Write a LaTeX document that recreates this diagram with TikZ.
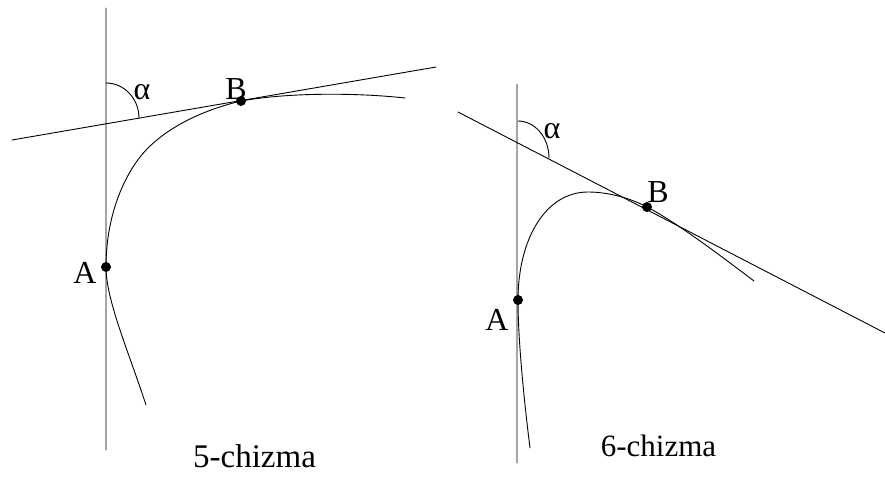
\documentclass[tikz,border=0pt]{standalone}
\usepackage{fontspec}
\setmainfont{Liberation Serif}
\begin{document}
\begin{tikzpicture}[x=1pt, y=-1pt, line join=round, line cap=round, line width=0.9pt,
	every node/.style={inner sep=0pt, font=\fontsize{32}{36}\selectfont}]
		\useasboundingbox (0,0) rectangle (885,477);
		\path
		(106,8) coordinate (T1)
		(106,450) coordinate (S1)
		(12,140) coordinate (L1)
		(436,67) coordinate (R1)
		(106,267) coordinate (A1)
		(241,101) coordinate (B1)
		(517,84) coordinate (T2)
		(517,463) coordinate (S2)
		(458,112) coordinate (L2)
		(885,333) coordinate (R2)
		(518,300) coordinate (A2)
		(647,207) coordinate (B2)
	;
		% 5-chizma
		\draw (T1)--(S1) (L1)--(R1);
		\draw (146,405) .. controls (128,350) and (106,300) .. (A1) .. controls (106,210) and (128,168) .. (148,148) .. controls (165,131) and (195,112) .. (B1) .. controls (291,92) and (360,93) .. (405,98);
		\draw (106,83) arc[start angle=-90, end angle=0, x radius=33, y radius=35];
		\node (al1) at (142,92) {α};
		\node (cap1) at (254.5,456) {\fontsize{33}{36}\selectfont 5-chizma};
		% 6-chizma
		\draw (T2)--(S2) (L2)--(R2);
		\draw (530,448) .. controls (524,400) and (518,340) .. (A2) .. controls (518,240) and (545,192) .. (588,192) .. controls (608,192) and (630,198) .. (B2) .. controls (677,222.5) and (725,259) .. (754,281);
		\draw (518,121) arc[start angle=-90, end angle=0, x radius=31, y radius=37];
		\node (al2) at (552,131) {α};
		\node (cap2) at (658.5,446) {\fontsize{31}{36}\selectfont 6-chizma};
		\foreach \p/\dx/\dy/\t in {A1/-21/6/A, B1/-5/-12/B, A2/-21/20/A, B2/11/-15/B}\draw[fill=black] (\p) circle (4.5) +(\dx,\dy) node (l\p) {\t};
		\end{tikzpicture}
\end{document}
